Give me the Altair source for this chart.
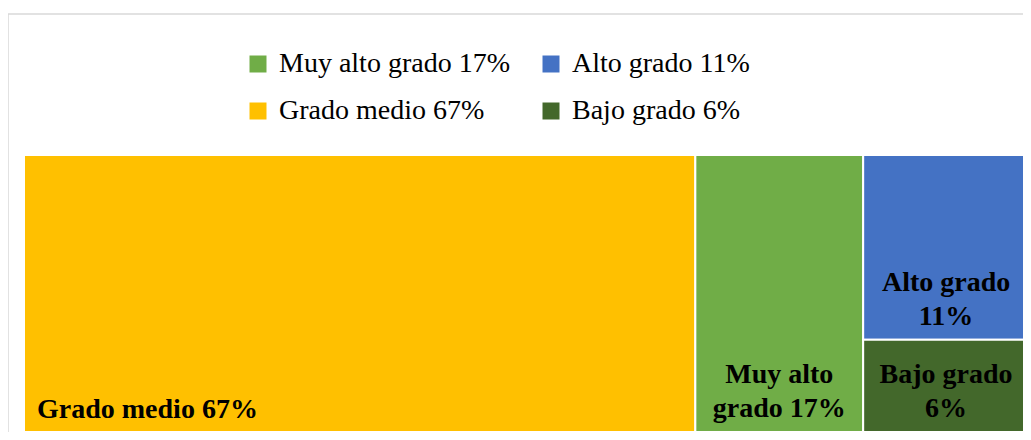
import altair as alt
import pandas as pd

# ---- data ----
names = ["Grado medio", "Muy alto grado", "Alto grado", "Bajo grado"]
values = [66.8, 16.7, 11.0, 5.5]          # tile areas as measured in the picture
pct_labels = [67, 17, 11, 6]               # rounded percentages printed on the chart
tile_labels = ["Grado medio 67%", "Muy alto\ngrado 17%", "Alto grado\n11%", "Bajo grado\n6%"]
label_align = ["left", "center", "center", "center"]
tile_column = [0, 1, 2, 2]
colors = ["#FFC000", "#70AD47", "#4472C4", "#43682B"]
# legend is filled column by column: (Muy alto, Grado medio) | (Alto, Bajo)
legend_order = ["Muy alto grado", "Grado medio", "Alto grado", "Bajo grado"]

# ---- slice-and-dice treemap layout computed from the values ----
group_sums = {}
for g, v in zip(tile_column, values):
    group_sums[g] = group_sums.get(g, 0) + v
x_start = {}
acc = 0
for g in sorted(group_sums):
    x_start[g] = acc
    acc += group_sums[g]
total = acc
y_acc = {g: 0.0 for g in group_sums}
rows = []
for n, v, p, g, lab, al in zip(names, values, pct_labels, tile_column, tile_labels, label_align):
    gx0 = x_start[g]
    gx1 = gx0 + group_sums[g]
    y0 = y_acc[g]
    y1 = y0 + v / group_sums[g]
    y_acc[g] = y1
    rows.append(dict(name=n, legend=f"{n} {p}%", x0=gx0, x1=gx1, y0=y0, y1=y1,
                     xc=(gx0 + gx1) / 2, label=lab, align=al))
df = pd.DataFrame(rows)

legend_domain = [f"{n} {pct_labels[names.index(n)]}%" for n in legend_order]
legend_range = [colors[names.index(n)] for n in legend_order]

W, H = 999, 277
XR = 1005  # treemap runs slightly past the page edge, as in the reference
xs = alt.Scale(domain=[0, total], nice=False, zero=True, range=[0, XR])
ys = alt.Scale(domain=[0, 1], nice=False, reverse=True)

base = alt.Chart(df)

tiles = base.mark_rect(stroke="white", strokeWidth=2).encode(
    x=alt.X("x0:Q", scale=xs, axis=None),
    x2="x1:Q",
    y=alt.Y("y0:Q", scale=ys, axis=None),
    y2="y1:Q",
    color=alt.Color(
        "legend:N",
        scale=alt.Scale(domain=legend_domain, range=legend_range),
        legend=alt.Legend(
            title=None, orient="none", legendX=220, legendY=-105,
            columns=2, columnPadding=27, rowPadding=19,
            symbolType="square", symbolSize=289, symbolStrokeWidth=0,
            labelFont="Liberation Serif", labelFontSize=28, labelColor="#000000",
            labelOffset=7, labelLimit=600,
        ),
    ),
)

text_common = dict(font="Liberation Serif", fontSize=28, fontWeight="bold",
                   color="#000000", lineBreak="\n", lineHeight=34, baseline="alphabetic")

left_text = base.transform_filter(alt.datum.align == "left").mark_text(
    align="left", dx=13, dy=-14, **text_common
).encode(x=alt.X("x0:Q", scale=xs), y=alt.Y("y1:Q", scale=ys), text="label:N")

center_text = base.transform_filter(alt.datum.align == "center").mark_text(
    align="center", dy=-49, **text_common
).encode(x=alt.X("xc:Q", scale=xs), y=alt.Y("y1:Q", scale=ys), text="label:N")

frame_data = alt.Data(values=[{"k": 0}])
frame_v = alt.Chart(frame_data).mark_rule(color="#D9D9D9", strokeWidth=1.5).encode(
    x=alt.value(-16), y=alt.value(-141), y2=alt.value(277)
)
frame_h = alt.Chart(frame_data).mark_rule(color="#D9D9D9", strokeWidth=1.5).encode(
    y=alt.value(-141), x=alt.value(-16), x2=alt.value(1010)
)

chart = alt.layer(frame_v, frame_h, tiles, left_text, center_text).properties(
    width=W, height=H,
    autosize=alt.AutoSizeParams(type="none"),
    padding={"left": 16, "top": 147, "right": 0, "bottom": 0},
).configure_view(stroke=None).configure(background="white")

chart.save("out.html", embed_options={"renderer": "svg", "actions": False})
